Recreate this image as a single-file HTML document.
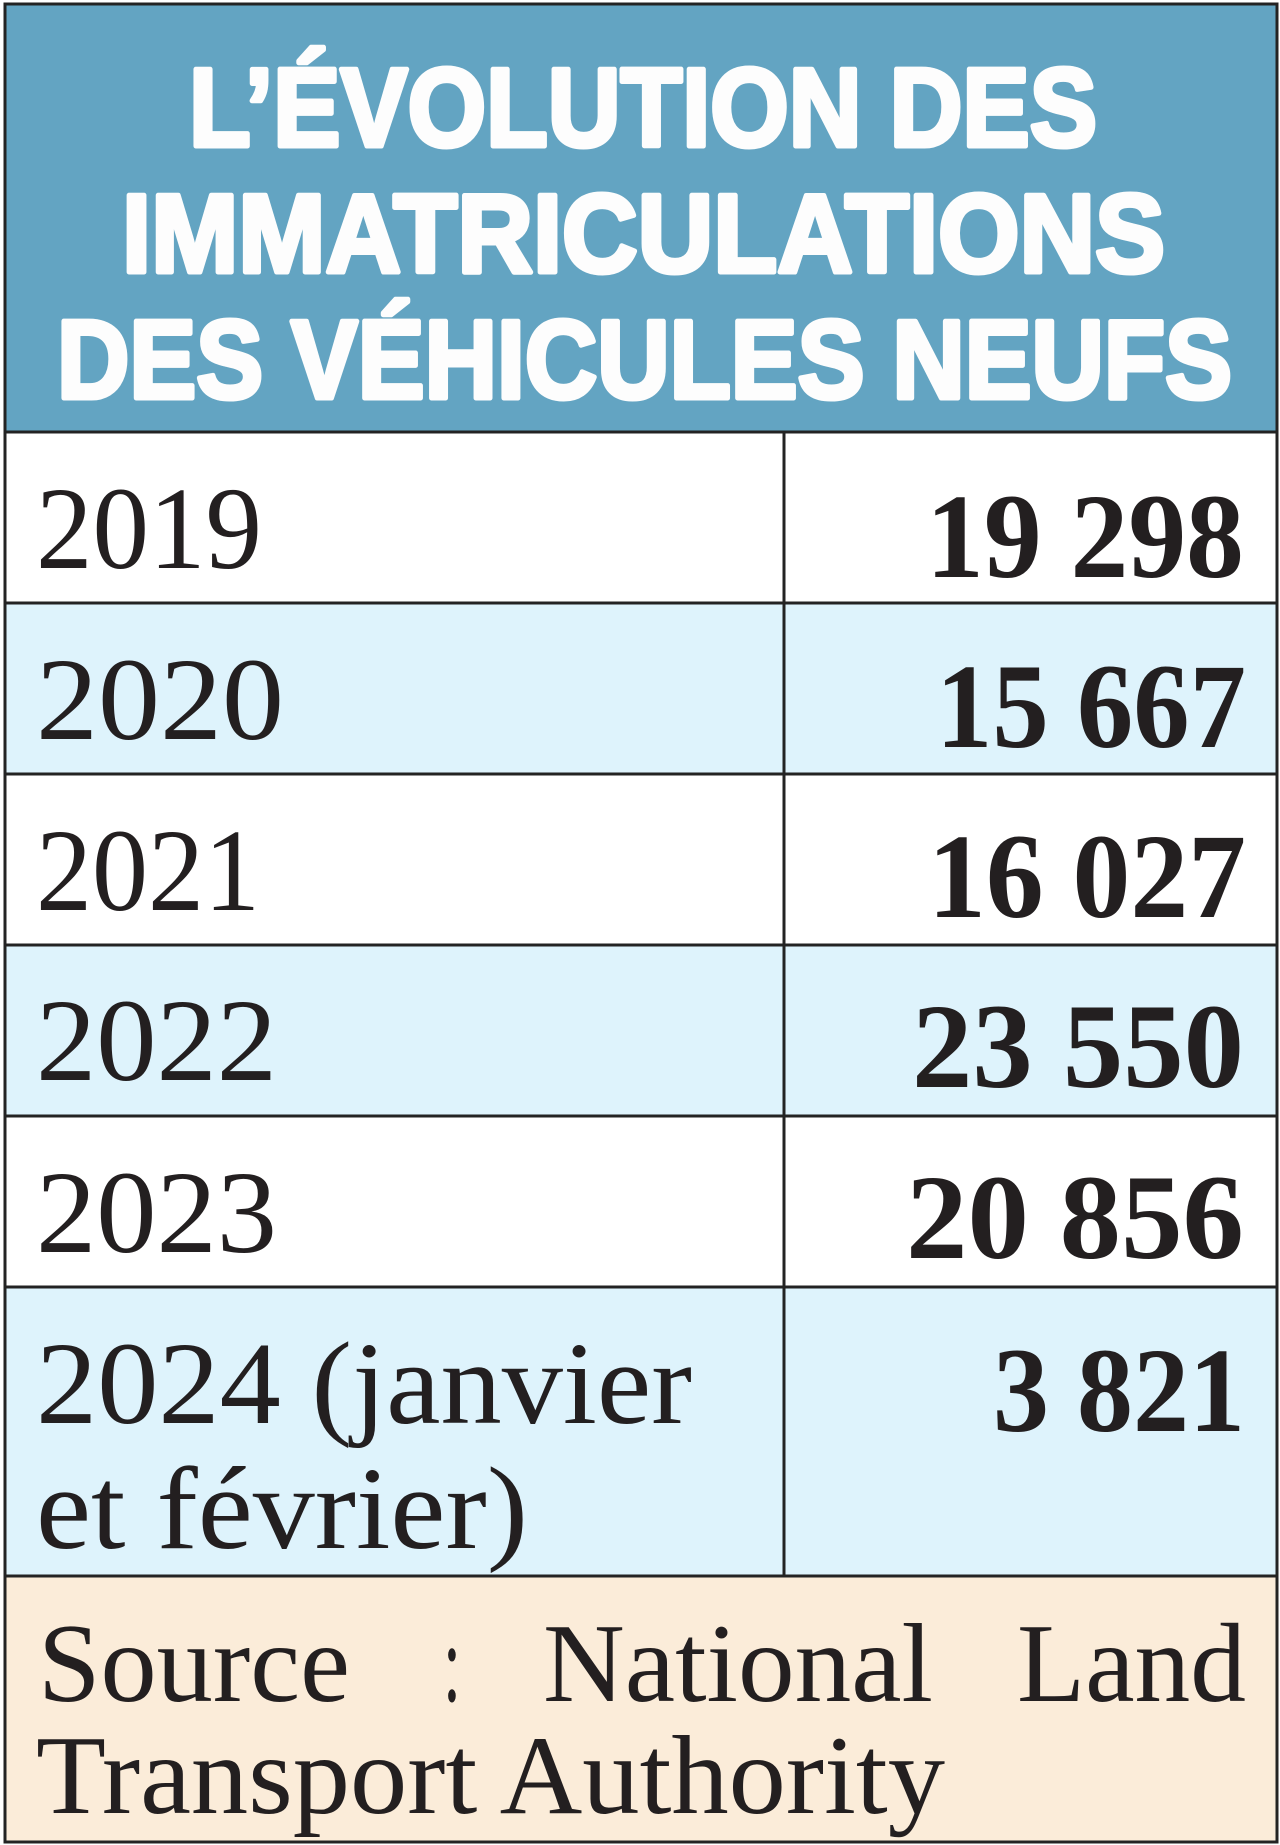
<!DOCTYPE html>
<html>
<head>
<meta charset="utf-8">
<style>
html,body{margin:0;padding:0;background:#fff;}
svg{display:block;}
.t{font-family:"Liberation Sans",sans-serif;font-weight:bold;fill:#fdfdfd;stroke:#fdfdfd;stroke-width:5;stroke-linejoin:round;}
.y{font-family:"Liberation Serif",serif;fill:#231f20;font-size:118px;}
.n{font-family:"Liberation Serif",serif;font-weight:bold;fill:#231f20;font-size:121px;}
.s{font-family:"Liberation Serif",serif;fill:#231f20;font-size:112px;}
</style>
</head>
<body>
<svg width="1280" height="1845" viewBox="0 0 1280 1845" xmlns="http://www.w3.org/2000/svg">
  <rect x="0" y="0" width="1280" height="1845" fill="#ffffff"/>
  <rect x="5" y="4" width="1272" height="428" fill="#63a4c2"/>
  <rect x="5" y="432" width="1272" height="171" fill="#ffffff"/>
  <rect x="5" y="603" width="1272" height="171" fill="#def3fc"/>
  <rect x="5" y="774" width="1272" height="171" fill="#ffffff"/>
  <rect x="5" y="945" width="1272" height="171" fill="#def3fc"/>
  <rect x="5" y="1116" width="1272" height="171" fill="#ffffff"/>
  <rect x="5" y="1287" width="1272" height="289" fill="#def3fc"/>
  <rect x="5" y="1576" width="1272" height="266" fill="#fbecd9"/>

  <g stroke="#232323" stroke-width="3" fill="none">
    <line x1="4" y1="432" x2="1277" y2="432"/>
    <line x1="4" y1="603" x2="1277" y2="603"/>
    <line x1="4" y1="774" x2="1277" y2="774"/>
    <line x1="4" y1="945" x2="1277" y2="945"/>
    <line x1="4" y1="1116" x2="1277" y2="1116"/>
    <line x1="4" y1="1287" x2="1277" y2="1287"/>
    <line x1="4" y1="1576" x2="1277" y2="1576"/>
    <line x1="784" y1="432" x2="784" y2="1576"/>
    <rect x="5" y="4" width="1272" height="1838"/>
  </g>

  <text class="t" x="189" y="146" font-size="111" textLength="908" lengthAdjust="spacingAndGlyphs">L’ÉVOLUTION DES</text>
  <text class="t" x="122" y="272" font-size="111" textLength="1043" lengthAdjust="spacingAndGlyphs">IMMATRICULATIONS</text>
  <text class="t" x="57" y="398" font-size="111" textLength="1175" lengthAdjust="spacingAndGlyphs">DES VÉHICULES NEUFS</text>

  <text class="y" x="36" y="568" textLength="226" lengthAdjust="spacingAndGlyphs">2019</text>
  <text class="y" x="36" y="739" textLength="248" lengthAdjust="spacingAndGlyphs">2020</text>
  <text class="y" x="36" y="910" textLength="224" lengthAdjust="spacingAndGlyphs">2021</text>
  <text class="y" x="36" y="1080" textLength="241" lengthAdjust="spacingAndGlyphs">2022</text>
  <text class="y" x="36" y="1252" textLength="241" lengthAdjust="spacingAndGlyphs">2023</text>
  <text class="y" x="36" y="1423" textLength="656" lengthAdjust="spacingAndGlyphs">2024 (janvier</text>
  <text class="y" x="36" y="1548" textLength="492" lengthAdjust="spacingAndGlyphs">et février)</text>

  <text class="n" x="926" y="577" textLength="318" lengthAdjust="spacingAndGlyphs">19 298</text>
  <text class="n" x="936" y="747" textLength="310" lengthAdjust="spacingAndGlyphs">15 667</text>
  <text class="n" x="928" y="917" textLength="318" lengthAdjust="spacingAndGlyphs">16 027</text>
  <text class="n" x="912" y="1087" textLength="332" lengthAdjust="spacingAndGlyphs">23 550</text>
  <text class="n" x="906" y="1258" textLength="338" lengthAdjust="spacingAndGlyphs">20 856</text>
  <text class="n" x="993" y="1431" textLength="252" lengthAdjust="spacingAndGlyphs">3 821</text>

  <text class="s" x="38" y="1701" textLength="312" lengthAdjust="spacingAndGlyphs">Source</text>
  <text class="s" x="443" y="1701" textLength="18" lengthAdjust="spacingAndGlyphs">:</text>
  <text class="s" x="543" y="1701" textLength="390" lengthAdjust="spacingAndGlyphs">National</text>
  <text class="s" x="1017" y="1701" textLength="229" lengthAdjust="spacingAndGlyphs">Land</text>
  <text class="s" x="36" y="1813" textLength="909" lengthAdjust="spacingAndGlyphs">Transport Authority</text>
</svg>
</body>
</html>
